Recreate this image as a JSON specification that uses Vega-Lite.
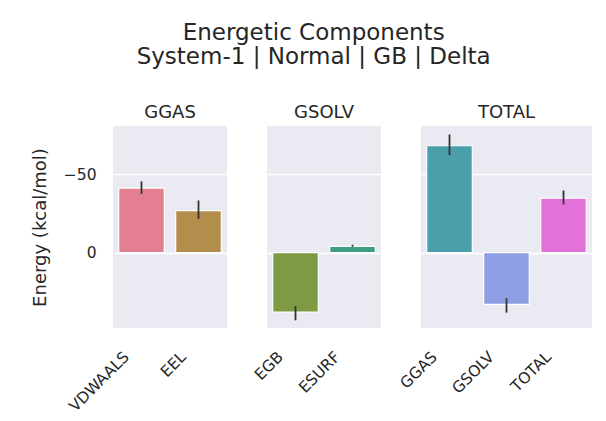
{
  "$schema": "https://vega.github.io/schema/vega-lite/v6.json",
  "background": "white",
  "padding": {"left": 31, "top": 22, "right": 5, "bottom": 5},
  "bounds": "flush",
  "title": {
    "text": ["Energetic Components", "System-1 | Normal | GB | Delta"],
    "fontSize": 23,
    "font": "DejaVu Sans",
    "fontWeight": "normal",
    "color": "#262626",
    "anchor": "middle",
    "lineHeight": 24,
    "offset": 35,
    "dx": 2
  },
  "data": {
    "values": [
      {"group": "GGAS", "term": "VDWAALS", "energy": -41.2, "lo": -45.5, "hi": -37.6},
      {"group": "GGAS", "term": "EEL", "energy": -26.9, "lo": -33.3, "hi": -21.6},
      {"group": "GSOLV", "term": "EGB", "energy": 37.8, "lo": 34.0, "hi": 43.1},
      {"group": "GSOLV", "term": "ESURF", "energy": -4.1, "lo": -5.1, "hi": -3.8},
      {"group": "TOTAL", "term": "GGAS", "energy": -68.2, "lo": -75.4, "hi": -62.2},
      {"group": "TOTAL", "term": "GSOLV", "energy": 32.9, "lo": 29.0, "hi": 38.2},
      {"group": "TOTAL", "term": "TOTAL", "energy": -34.8, "lo": -39.7, "hi": -30.8}
    ]
  },
  "facet": {
    "column": {
      "field": "group",
      "type": "nominal",
      "sort": ["GGAS", "GSOLV", "TOTAL"],
      "title": null,
      "header": {
        "labelFontSize": 18,
        "labelFont": "DejaVu Sans",
        "labelColor": "#262626",
        "labelPadding": 4
      }
    }
  },
  "spacing": 40,
  "resolve": {"scale": {"x": "independent"}},
  "spec": {
    "width": {"step": 57},
    "height": 202,
    "encoding": {
      "x": {
        "field": "term",
        "type": "nominal",
        "sort": ["VDWAALS", "EEL", "EGB", "ESURF", "GGAS", "GSOLV", "TOTAL"],
        "title": null,
        "scale": {"paddingInner": 0.2, "paddingOuter": 0.1},
        "axis": {"labelAngle": -45, "labelPadding": 21, "labelOffset": -20, "labelFontSize": 15.5}
      }
    },
    "layer": [
      {
        "mark": {"type": "bar", "stroke": "white", "strokeWidth": 1.2},
        "encoding": {
          "y": {
            "field": "energy",
            "type": "quantitative",
            "title": "Energy (kcal/mol)",
            "scale": {"domain": [-80.8, 48], "reverse": true, "nice": false, "zero": false},
            "axis": {"values": [-50, 0], "labelFontSize": 15.5, "titleFontSize": 18, "labelPadding": 17, "titlePadding": 14}
          },
          "color": {
            "field": "term",
            "type": "nominal",
            "legend": null,
            "scale": {
              "domain": ["VDWAALS", "EEL", "EGB", "ESURF", "GGAS", "GSOLV", "TOTAL"],
              "range": ["#e47f91", "#b38d4b", "#7e9a42", "#3e9f80", "#4a9faa", "#8f9fe3", "#e272d9"]
            }
          }
        }
      },
      {
        "mark": {"type": "rule", "color": "#333333", "strokeWidth": 1.8},
        "encoding": {
          "y": {"field": "lo", "type": "quantitative"},
          "y2": {"field": "hi"}
        }
      }
    ]
  },
  "config": {
    "font": "DejaVu Sans",
    "view": {"fill": "#eaeaf2", "stroke": null},
    "axis": {
      "domain": false,
      "ticks": false,
      "grid": true,
      "gridColor": "white",
      "gridWidth": 1.5,
      "labelColor": "#262626",
      "titleColor": "#262626",
      "titleFontWeight": "normal",
      "labelFont": "DejaVu Sans",
      "titleFont": "DejaVu Sans"
    },
    "axisX": {"grid": false}
  }
}
